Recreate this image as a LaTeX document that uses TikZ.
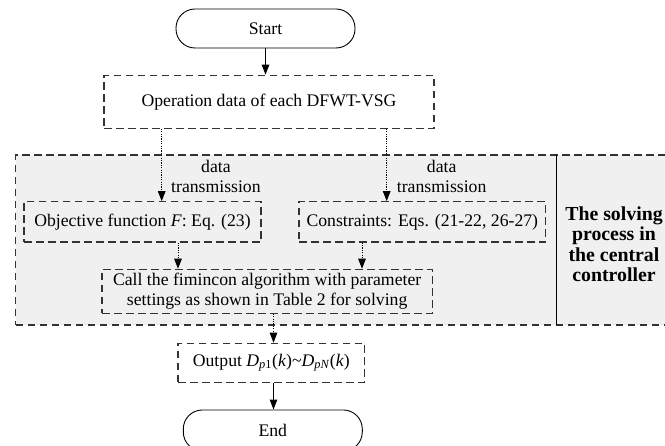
\documentclass[tikz,border=0pt]{standalone}
\usepackage{fontspec}
\setmainfont{Liberation Serif}
\usetikzlibrary{arrows.meta}
\definecolor{edge}{HTML}{333333}
\definecolor{zonefill}{HTML}{F0F0F0}
\begin{document}
\begin{tikzpicture}[x=1pt,y=-1pt,
  font=\fontsize{17.7}{20}\selectfont,
  terminal/.style={draw=black, line width=0.9pt, rounded corners=19pt,
    minimum width=179pt, minimum height=39pt, inner sep=0pt},
  dbox/.style={draw=edge, line width=1.1pt, dash pattern=on 7.5pt off 4.5pt,
    inner sep=0pt, align=center},
  zone/.style={dbox, fill=zonefill},
  lab/.style={inner sep=0pt, align=center},
  flow/.style={-{Triangle[length=10pt,width=7.5pt]}, line width=1pt, black},
  dflow/.style={flow, dash pattern=on 1.2pt off 1.2pt},
]
\useasboundingbox (0,0) rectangle (665,446);

% shaded region for the central controller
\node[zone, minimum width=660pt, minimum height=170pt] (zone) at (345.7,240) {};
\coordinate (sepT) at (556.7,155);
\coordinate (sepB) at (556.7,325);
\draw[line width=1pt, black] (sepT) -- (sepB);

% flow nodes
\node[terminal] (start) at (265.5,28.5) {Start};
\node[dbox, minimum width=330pt, minimum height=53pt] (oper) at (269,101.7)
  {Operation data of each DFWT-VSG};
\node[dbox, minimum width=237pt, minimum height=40.3pt] (obj) at (142.5,221.85)
  {Objective function \textit{F}: Eq. (23)};
\node[dbox, minimum width=246.7pt, minimum height=40.3pt] (cons) at (422.35,221.85)
  {Constraints: Eqs. (21-22, 26-27)};
\node[dbox, minimum width=330.3pt, minimum height=44pt] (call) at (267.15,291.3)
  {Call the fimincon algorithm with parameter\\settings as shown in Table 2 for solving};
\node[dbox, minimum width=186.7pt, minimum height=39pt] (out) at (271.35,362.8)
  {Output \textit{D}\textsubscript{\textit{p}1}(\textit{k})\char"7E\textit{D}\textsubscript{\textit{pN}}(\textit{k})};
\node[terminal, minimum height=41pt] (end) at (272.8,430.5) {End};

% labels
\node[lab, anchor=west] (lblA) at (171,176.5) {data\\transmission};
\node[lab, anchor=west] (lblB) at (396.7,176.5) {data\\transmission};
\node[lab, font=\fontsize{19.8}{20.5}\selectfont\bfseries] (note) at (614,244)
  {The solving\\process in\\the central\\controller};

% connector columns
\coordinate (tapA) at (161.7,0);
\coordinate (tapB) at (386.7,0);
\coordinate (tapC) at (178,0);
\coordinate (tapD) at (362,0);
\coordinate (tapE) at (273.5,0);

% connectors
\draw[flow] (start.south) -- (start.south |- oper.north);
\draw[dflow] (oper.south -| tapA) -- (obj.north -| tapA);
\draw[dflow] (oper.south -| tapB) -- (cons.north -| tapB);
\draw[dflow] (obj.south -| tapC) -- (call.north -| tapC);
\draw[dflow] (cons.south -| tapD) -- (call.north -| tapD);
\draw[dflow] (call.south -| tapE) -- (out.north -| tapE);
\draw[flow] (out.south -| tapE) -- (end.north -| tapE);
\end{tikzpicture}
\end{document}
